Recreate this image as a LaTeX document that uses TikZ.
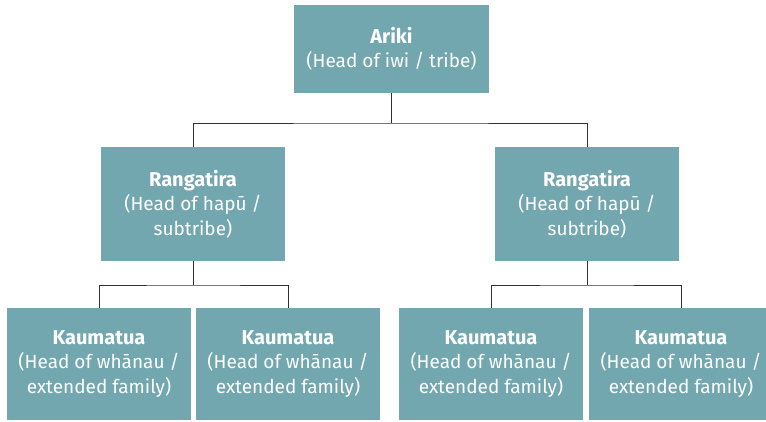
\documentclass[tikz,border=0pt]{standalone}
\usepackage{fontspec}
\setmainfont{Fira Sans}
\definecolor{boxfill}{RGB}{114,167,176}
\definecolor{linec}{RGB}{50,50,50}
\newcommand{\hd}[1]{{\fontsize{20}{24.5}\selectfont\bfseries #1}}
\tikzset{
  orgbox/.style={fill=boxfill, draw=none, text=white, align=center,
    inner sep=0pt, font=\fontsize{19}{24.5}\selectfont},
  conn/.style={draw=linec, line width=1pt}
}
\begin{document}
\begin{tikzpicture}[x=1pt,y=-1pt]
\clip (0,0) rectangle (766,421);
\fill[white] (0,0) rectangle (766,421);
\node[orgbox, minimum width=195pt, minimum height=88pt] (root) at (391.5,49)
  {\hd{Ariki}\\(Head of iwi / tribe)};
\node[orgbox, minimum width=184pt, minimum height=114pt] (rl) at (193,204)
  {\hd{Rangatira}\\(Head of hapū /\\subtribe)};
\node[orgbox, minimum width=184pt, minimum height=114pt] (rr) at (587,204)
  {\hd{Rangatira}\\(Head of hapū /\\subtribe)};
\node[orgbox, minimum width=184pt, minimum height=112pt] (k1) at (99,364)
  {\hd{Kaumatua}\\(Head of whānau /\\extended family)};
\node[orgbox, minimum width=184pt, minimum height=112pt] (k2) at (288,364)
  {\hd{Kaumatua}\\(Head of whānau /\\extended family)};
\node[orgbox, minimum width=184pt, minimum height=112pt] (k3) at (491,364)
  {\hd{Kaumatua}\\(Head of whānau /\\extended family)};
\node[orgbox, minimum width=184pt, minimum height=112pt] (k4) at (681,364)
  {\hd{Kaumatua}\\(Head of whānau /\\extended family)};
\coordinate (j0) at (391.5,123);
\coordinate (j1) at (193,285);
\coordinate (j2) at (587,285);
\draw[conn] (root.south) -- (j0);
\draw[conn] (rl.north) |- (j0) -| (rr.north);
\draw[conn] (rl.south) -- (j1);
\draw[conn] (k1.north) |- (j1) -| (k2.north);
\draw[conn] (rr.south) -- (j2);
\draw[conn] (k3.north) |- (j2) -| (k4.north);
\end{tikzpicture}
\end{document}
